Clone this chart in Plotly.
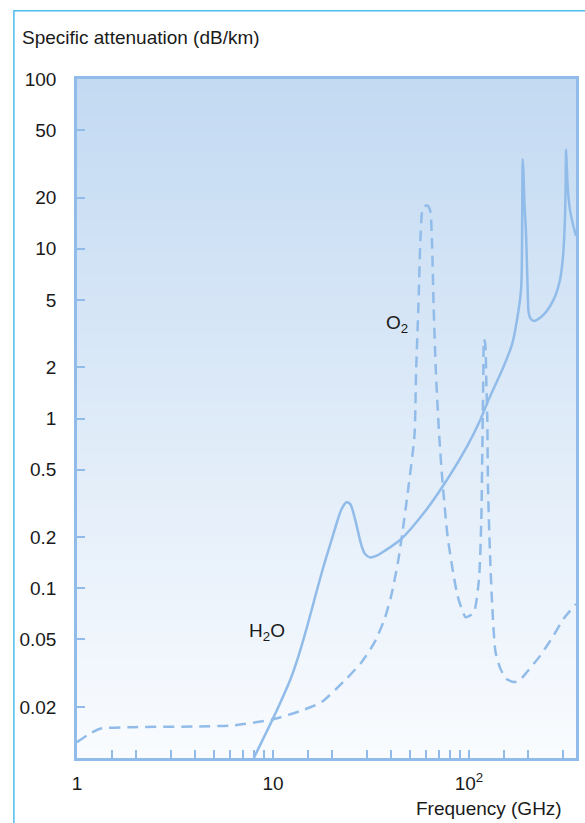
import plotly.graph_objects as go

# ---- data (frequency in GHz, attenuation in dB/km) ----
h2o_freq = [7.98, 9.88, 10.94, 12.25, 13.5, 14.82, 16.4, 18.07, 19.9, 21.3, 22.4, 23.7, 24.8, 26.2,
            28.3, 29.5, 31.2, 33.6, 37.1, 45.1, 59.2, 77.7, 98.1, 114.6, 124.0, 150.6, 166.0, 176.0,
            184.4, 186.5, 188.0, 189.8, 192.0, 195.4, 198.9, 201.6, 205.9, 213.8, 235.5, 259.5,
            277.3, 291.6, 300.9, 305.6, 309.2, 311.3, 312.8, 314.6, 317.2, 321.6, 328.5, 341.0, 351.4]
h2o_att = [0.0100, 0.0166, 0.0214, 0.0289, 0.040, 0.0576, 0.0889, 0.1334, 0.1924, 0.249, 0.293, 0.321,
           0.313, 0.256, 0.178, 0.159, 0.152, 0.155, 0.166, 0.195, 0.280, 0.44, 0.69, 0.99, 1.24,
           2.04, 2.74, 3.84, 5.76, 10.8, 33.8, 27.4, 18.2, 12.4, 6.17, 4.2, 3.89, 3.75, 4.0, 4.6,
           5.38, 6.6, 8.65, 11.3, 15.9, 23.9, 38.4, 33.5, 26.3, 20.4, 16.6, 13.6, 11.9]

o2_freq = [1.0, 1.137, 1.31, 1.93, 4.2, 6.2, 9.88, 12.5, 14.0, 17.7, 23.7, 28.3, 33.0, 37.1, 40.1,
           43.4, 46.0, 48.7, 52.7, 53.7, 55.2, 56.5, 57.7, 59.2, 61.5, 63.5, 64.7, 66.0, 67.8, 70.5,
           73.3, 77.7, 82.4, 87.4, 92.6, 96.2, 100.5, 106.1, 112.5, 115.6, 116.9, 118.3, 119.3,
           121.1, 122.5, 124.0, 125.0, 127.9, 131.4, 136.6, 144.8, 154.7, 169.3, 180.1, 197.7,
           230.9, 270.0, 303.4, 351.5]
o2_att = [0.0124, 0.0137, 0.01487, 0.0152, 0.01534, 0.01555, 0.01686, 0.01823, 0.01905, 0.02135,
          0.0293, 0.0367, 0.0481, 0.066, 0.0905, 0.142, 0.223, 0.367, 0.79, 1.865, 4.6, 11.3, 16.6,
          17.8, 17.96, 16.6, 11.3, 4.6, 1.865, 0.79, 0.42, 0.204, 0.13, 0.0905, 0.0735, 0.0675,
          0.0687, 0.0723, 0.1134, 0.256, 0.631, 1.70, 2.93, 2.74, 1.70, 0.99, 0.401, 0.163, 0.079,
          0.042, 0.0335, 0.0293, 0.028, 0.0285, 0.0321, 0.0401, 0.0526, 0.066, 0.0808]

x_tick_vals = [1, 1.5, 2, 3, 4, 5, 6, 7, 8, 9, 10, 15, 20, 30, 40, 50, 60, 70, 80, 90, 100, 150, 200, 300]
x_tick_text = ["1", "", "", "", "", "", "", "", "", "", "10", "", "", "", "", "", "", "", "", "",
               "10<sup>2</sup>", "", "", ""]
y_tick_vals = [0.02, 0.05, 0.1, 0.2, 0.5, 1, 2, 5, 10, 20, 50, 100]
y_tick_text = ["0.02", "0.05", "0.1", "0.2", "0.5", "1", "2", "5", "10", "20", "50", "100"]

y_title = "Specific attenuation (dB/km)"
x_title = "Frequency (GHz)"
label_h2o = "H<sub>2</sub>O"
label_o2 = "O<sub>2</sub>"

# ---- styling ----
W, H = 585, 823
L, R, T, B = 77, 6, 79, 65
pw, ph = W - L - R, H - T - B
LINE = "#91bce9"
FONT = "Liberation Sans, Arial, sans-serif"
FS = 19


def px(xp):
    return (xp - L) / pw


def py(yp):
    return (H - B - yp) / ph


fig = go.Figure()
fig.add_trace(go.Scatter(x=h2o_freq, y=h2o_att, mode="lines",
                         line=dict(color=LINE, width=2.5, shape="spline", smoothing=0.8),
                         hoverinfo="skip", showlegend=False))
fig.add_trace(go.Scatter(x=o2_freq, y=o2_att, mode="lines",
                         line=dict(color=LINE, width=2.5, dash="11px,7px", shape="spline",
                                   smoothing=0.6),
                         hoverinfo="skip", showlegend=False))

# gradient background of plot area
shapes = []
n = 90
top = (195, 218, 242)
bot = (249, 251, 254)
for i in range(n):
    t = i / (n - 1)
    c = tuple(round(top[k] + (bot[k] - top[k]) * t) for k in range(3))
    shapes.append(dict(type="rect", xref="x domain", yref="y domain", x0=0, x1=1,
                       y0=1 - (i + 1) / n, y1=1 - i / n + 0.002, line=dict(width=0),
                       fillcolor="rgb(%d,%d,%d)" % c, layer="below"))
# outer frame
shapes.append(dict(type="rect", xref="paper", yref="paper", x0=px(13.5), x1=px(620),
                   y0=py(900), y1=py(10.7), line=dict(color="#4dbdee", width=1.5),
                   fillcolor="rgba(0,0,0,0)", layer="above"))

annotations = [
    dict(text=y_title, xref="paper", yref="paper", x=px(20), y=py(38), xanchor="left",
         yanchor="middle", showarrow=False, font=dict(size=FS, color="#1a1a1a", family=FONT)),
    dict(text=x_title, xref="paper", yref="paper", x=px(567), y=py(808), xanchor="right",
         yanchor="middle", showarrow=False, font=dict(size=FS, color="#1a1a1a", family=FONT)),
    dict(text=label_o2, xref="paper", yref="paper", x=px(399), y=py(324), xanchor="center",
         yanchor="middle", showarrow=False, font=dict(size=FS, color="#1a1a1a", family=FONT)),
    dict(text=label_h2o, xref="paper", yref="paper", x=px(268), y=py(632), xanchor="center",
         yanchor="middle", showarrow=False, font=dict(size=FS, color="#1a1a1a", family=FONT)),
]

fig.update_layout(
    width=W, height=H, margin=dict(l=L, r=R, t=T, b=B),
    paper_bgcolor="white", plot_bgcolor="white",
    font=dict(family=FONT, size=FS, color="#1a1a1a"),
    shapes=shapes, annotations=annotations, showlegend=False,
)
fig.update_xaxes(type="log", range=[0, 2.546], tickvals=x_tick_vals, ticktext=x_tick_text,
                 ticks="inside", ticklen=8, tickwidth=2, tickcolor=LINE,
                 showline=True, linecolor=LINE, linewidth=2.5, mirror=True,
                 showgrid=False, zeroline=False, ticklabelstandoff=6)
fig.update_yaxes(type="log", range=[-2, 2], tickvals=y_tick_vals, ticktext=y_tick_text,
                 ticks="inside", ticklen=8, tickwidth=2, tickcolor=LINE,
                 showline=True, linecolor=LINE, linewidth=2.5, mirror=True,
                 showgrid=False, zeroline=False, ticklabelstandoff=14)

fig.write_html("out.html", config={"displayModeBar": False},
               post_script="document.body.style.margin='0';")
